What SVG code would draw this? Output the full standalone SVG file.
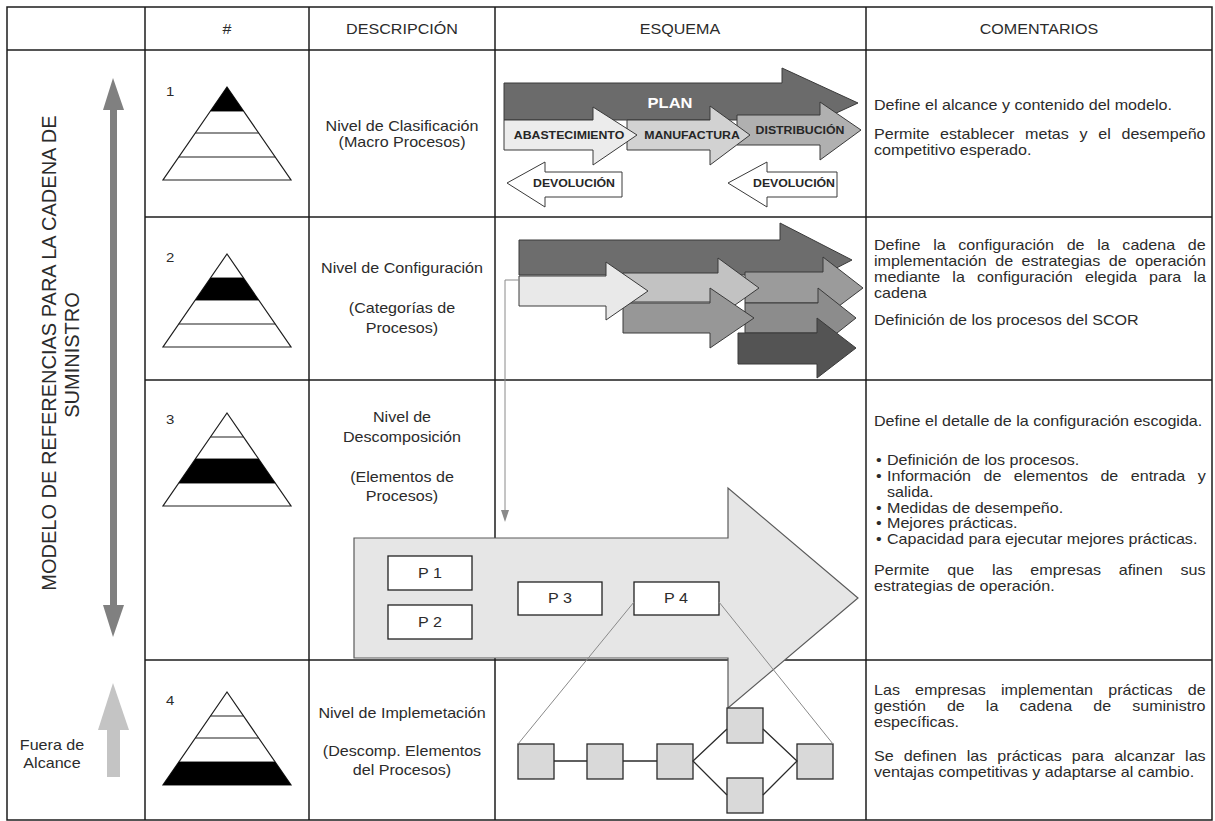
<svg xmlns="http://www.w3.org/2000/svg" width="1215" height="821" viewBox="0 0 1215 821">
  <style>
    .grid { stroke: #1c1c1c; stroke-width: 1.5; fill: none; }
    .t { font-family: "Liberation Sans", Arial, sans-serif; font-size: 14px; fill: #2b2b2b; }
    .c { text-anchor: middle; }
    .lbl { font-family: "Liberation Sans", Arial, sans-serif; font-size: 11px; font-weight: bold; fill: #262626; text-anchor: middle; }
    .pyr { fill: #ffffff; stroke: #1e1e1e; stroke-width: 1.2; }
    .band { fill: #000000; }
    .arr { stroke: #3a3a3a; stroke-width: 1; }
    .box { fill: #ffffff; stroke: #222222; stroke-width: 1.3; }
    .sq { fill: #d9d9d9; stroke: #2a2a2a; stroke-width: 1.3; }
    .link { stroke: #2a2a2a; stroke-width: 1.3; fill: none; }
    .zoomline { stroke: #8a8a8a; stroke-width: 1; fill: none; }
  </style>
  <defs>
    <g id="pyramid">
      <polygon class="pyr" points="0,0 64,93 -64,93"/>
      <line class="pyr" x1="-16.5" y1="24" x2="16.5" y2="24"/>
      <line class="pyr" x1="-31.6" y1="46" x2="31.6" y2="46"/>
      <line class="pyr" x1="-48.2" y1="70" x2="48.2" y2="70"/>
    </g>
  </defs>

  <rect width="1215" height="821" fill="#ffffff"/>

  <!-- table grid -->
  <g id="table">
    <rect class="grid" x="7" y="7" width="1205" height="813"/>
    <line class="grid" x1="7" y1="50" x2="1212" y2="50" stroke-width="2"/>
    <line class="grid" x1="145" y1="7" x2="145" y2="820"/>
    <line class="grid" x1="309" y1="7" x2="309" y2="820"/>
    <line class="grid" x1="495" y1="7" x2="495" y2="820"/>
    <line class="grid" x1="866" y1="7" x2="866" y2="820"/>
    <line class="grid" x1="145" y1="217" x2="1212" y2="217"/>
    <line class="grid" x1="145" y1="380" x2="1212" y2="380"/>
    <line class="grid" x1="145" y1="660" x2="1212" y2="660"/>
  </g>

  <!-- header -->
  <g id="header">
    <text class="t c" transform="matrix(1.15 0 0 1 227 34)">#</text>
    <text class="t c" transform="matrix(1.15 0 0 1 402 34)">DESCRIPCIÓN</text>
    <text class="t c" transform="matrix(1.15 0 0 1 680 34)">ESQUEMA</text>
    <text class="t c" transform="matrix(1.15 0 0 1 1039 34)">COMENTARIOS</text>
  </g>

  <!-- scope axis -->
  <g id="scope">
    <rect x="110" y="108" width="7" height="499" fill="#808080"/>
    <polygon points="113,78 103,110 124,110" fill="#808080"/>
    <polygon points="103,605 124,605 113,637" fill="#808080"/>
    <text class="t c" transform="translate(56,353) rotate(-90)" style="font-size:20px">MODELO DE REFERENCIAS PARA LA CADENA DE</text>
    <text class="t c" transform="translate(79,355) rotate(-90)" style="font-size:20px">SUMINISTRO</text>
  </g>
  <g id="out-of-scope">
    <rect x="107" y="728" width="13" height="49" fill="#c4c4c4"/>
    <polygon points="113,683 98,730 129,730" fill="#c4c4c4"/>
    <text class="t c" transform="matrix(1.15 0 0 1 52 750)">Fuera de</text>
    <text class="t c" transform="matrix(1.15 0 0 1 52 768)">Alcance</text>
  </g>

  <!-- level 1 -->
  <g id="level1">
    <text class="t" transform="matrix(1.15 0 0 1 166 96)" style="font-size:13px">1</text>
    <g transform="translate(227,87)">
      <use href="#pyramid"/>
      <polygon class="band" points="0,0 16.5,24 -16.5,24"/>
    </g>
    <text class="t c" transform="matrix(1.15 0 0 1 402 131)">Nivel de Clasificación</text>
    <text class="t c" transform="matrix(1.15 0 0 1 402 147)">(Macro Procesos)</text>
    <g id="macro-processes">
      <polygon class="arr" fill="#6b6b6b" points="504,83 782,83 782,68 858,103 782,138 782,120 504,120"/>
      <polygon class="arr" fill="#b0b0b0" points="737,115 820,115 820,102 861,130 820,160 820,145 737,145"/>
      <polygon class="arr" fill="#d2d2d2" points="627,120 710,120 710,106 750,135 710,165 710,150 627,150"/>
      <polygon class="arr" fill="#ececec" points="504,120 593,120 593,107 637,135 593,165 593,150 504,150"/>
      <polygon class="arr" fill="#ffffff" points="507,183 545,162 545,172 622,172 622,197 545,197 545,207"/>
      <polygon class="arr" fill="#ffffff" points="728,183 767,162 767,172 837,172 837,197 767,197 767,207"/>
      <text class="lbl" transform="matrix(1.1 0 0 1 670 108)" style="font-size:15px;fill:#ffffff">PLAN</text>
      <text class="lbl" transform="matrix(1.12 0 0 1 569 139)">ABASTECIMIENTO</text>
      <text class="lbl" transform="matrix(1.12 0 0 1 692 139)">MANUFACTURA</text>
      <text class="lbl" transform="matrix(1.12 0 0 1 800 134)">DISTRIBUCIÓN</text>
      <text class="lbl" transform="matrix(1.12 0 0 1 574 187)">DEVOLUCIÓN</text>
      <text class="lbl" transform="matrix(1.12 0 0 1 794 187)">DEVOLUCIÓN</text>
    </g>
    <text class="t" transform="matrix(1.15 0 0 1 874 110)">Define el alcance y contenido del modelo.</text>
    <text class="t" transform="matrix(1.15 0 0 1 874 139)" word-spacing="5.4">Permite establecer metas y el desempeño</text>
    <text class="t" transform="matrix(1.15 0 0 1 874 155)">competitivo esperado.</text>
  </g>

  <!-- level 2 -->
  <g id="level2">
    <text class="t" transform="matrix(1.15 0 0 1 166 262)" style="font-size:13px">2</text>
    <g transform="translate(227,254)">
      <use href="#pyramid"/>
      <polygon class="band" points="-16.5,24 16.5,24 31.6,46 -31.6,46"/>
    </g>
    <text class="t c" transform="matrix(1.15 0 0 1 402 273)">Nivel de Configuración</text>
    <text class="t c" transform="matrix(1.15 0 0 1 402 313)">(Categorías de</text>
    <text class="t c" transform="matrix(1.15 0 0 1 402 333)">Procesos)</text>
    <g id="process-categories">
      <polygon class="arr" fill="#6d6d6d" points="519,240 780,240 780,223 852,260 780,297 780,275 519,275"/>
      <polygon class="arr" fill="#9b9b9b" points="745,272 823,272 823,257 863,288 823,318 823,303 745,303"/>
      <polygon class="arr" fill="#8c8c8c" points="745,303 818,303 818,288 856,318 818,348 818,333 745,333"/>
      <polygon class="arr" fill="#c2c2c2" points="623,273 718,273 718,258 759,288 718,317 718,302 623,302"/>
      <polygon class="arr" fill="#979797" points="623,303 710,303 710,288 754,318 710,348 710,333 623,333"/>
      <polygon class="arr" fill="#e9e9e9" points="519,276 606,276 606,262 648,291 606,320 606,306 519,306"/>
      <polygon class="arr" fill="#545454" points="738,333 817,333 817,318 856,348 817,378 817,364 738,364"/>
    </g>
    <text class="t" transform="matrix(1.15 0 0 1 874 250)" word-spacing="7.1">Define la configuración de la cadena de</text>
    <text class="t" transform="matrix(1.15 0 0 1 874 266)" word-spacing="3.5">implementación de estrategias de operación</text>
    <text class="t" transform="matrix(1.15 0 0 1 874 282)" word-spacing="6.7">mediante la configuración elegida para la</text>
    <text class="t" transform="matrix(1.15 0 0 1 874 298)">cadena</text>
    <text class="t" transform="matrix(1.15 0 0 1 874 325)">Definición de los procesos del SCOR</text>
  </g>

  <!-- level 3 -->
  <g id="level3">
    <text class="t" transform="matrix(1.15 0 0 1 166 424)" style="font-size:13px">3</text>
    <g transform="translate(227,413)">
      <use href="#pyramid"/>
      <polygon class="band" points="-31.6,46 31.6,46 48.2,70 -48.2,70"/>
    </g>
    <text class="t c" transform="matrix(1.15 0 0 1 402 422)">Nivel de</text>
    <text class="t c" transform="matrix(1.15 0 0 1 402 442)">Descomposición</text>
    <text class="t c" transform="matrix(1.15 0 0 1 402 482)">(Elementos de</text>
    <text class="t c" transform="matrix(1.15 0 0 1 402 501)">Procesos)</text>
    <g id="process-elements">
      <polygon fill="#e6e6e6" stroke="#5a5a5a" stroke-width="1.2" points="354,538 728,538 728,488 858,598 728,708 728,658 354,658"/>
      <rect class="box" x="388" y="556" width="84" height="34"/>
      <rect class="box" x="388" y="605" width="84" height="34"/>
      <rect class="box" x="518" y="582" width="84" height="33"/>
      <rect class="box" x="634" y="582" width="85" height="33"/>
      <text class="t c" transform="matrix(1.15 0 0 1 430 578)">P 1</text>
      <text class="t c" transform="matrix(1.15 0 0 1 430 627)">P 2</text>
      <text class="t c" transform="matrix(1.15 0 0 1 560 603)">P 3</text>
      <text class="t c" transform="matrix(1.15 0 0 1 676 603)">P 4</text>
    </g>
    <text class="t" transform="matrix(1.15 0 0 1 874 426)">Define el detalle de la configuración escogida.</text>
    <text class="t" transform="matrix(1.15 0 0 1 876 465)">•</text>
    <text class="t" transform="matrix(1.15 0 0 1 887 465)">Definición de los procesos.</text>
    <text class="t" transform="matrix(1.15 0 0 1 876 481)">•</text>
    <text class="t" transform="matrix(1.15 0 0 1 887 481)" word-spacing="6.9">Información de elementos de entrada y</text>
    <text class="t" transform="matrix(1.15 0 0 1 887 497)">salida.</text>
    <text class="t" transform="matrix(1.15 0 0 1 876 513)">•</text>
    <text class="t" transform="matrix(1.15 0 0 1 887 513)">Medidas de desempeño.</text>
    <text class="t" transform="matrix(1.15 0 0 1 876 528)">•</text>
    <text class="t" transform="matrix(1.15 0 0 1 887 528)">Mejores prácticas.</text>
    <text class="t" transform="matrix(1.15 0 0 1 876 544)">•</text>
    <text class="t" transform="matrix(1.15 0 0 1 887 544)">Capacidad para ejecutar mejores prácticas.</text>
    <text class="t" transform="matrix(1.15 0 0 1 874 575)" word-spacing="11.6">Permite que las empresas afinen sus</text>
    <text class="t" transform="matrix(1.15 0 0 1 874 591)">estrategias de operación.</text>
  </g>

  <!-- level 4 -->
  <g id="level4">
    <text class="t" transform="matrix(1.15 0 0 1 166 705)" style="font-size:13px">4</text>
    <g transform="translate(227,692)">
      <use href="#pyramid"/>
      <polygon class="band" points="-48.2,70 48.2,70 64,93 -64,93"/>
    </g>
    <text class="t c" transform="matrix(1.15 0 0 1 402 718)">Nivel de Implemetación</text>
    <text class="t c" transform="matrix(1.15 0 0 1 402 756)">(Descomp. Elementos</text>
    <text class="t c" transform="matrix(1.15 0 0 1 402 775)">del Procesos)</text>
    <g id="activity-flow">
      <rect class="sq" x="518" y="744" width="36" height="35"/>
      <rect class="sq" x="587" y="744" width="36" height="35"/>
      <rect class="sq" x="657" y="744" width="36" height="35"/>
      <rect class="sq" x="727" y="708" width="36" height="35"/>
      <rect class="sq" x="727" y="778" width="36" height="35"/>
      <rect class="sq" x="797" y="744" width="36" height="35"/>
    </g>
    <text class="t" transform="matrix(1.15 0 0 1 874 695)" word-spacing="9.3">Las empresas implementan prácticas de</text>
    <text class="t" transform="matrix(1.15 0 0 1 874 711)" word-spacing="14.4">gestión de la cadena de suministro</text>
    <text class="t" transform="matrix(1.15 0 0 1 874 727)">específicas.</text>
    <text class="t" transform="matrix(1.15 0 0 1 874 761)" word-spacing="4.9">Se definen las prácticas para alcanzar las</text>
    <text class="t" transform="matrix(1.15 0 0 1 874 777)">ventajas competitivas y adaptarse al cambio.</text>
  </g>

  <!-- connectors -->
  <g id="connectors">
    <polyline class="zoomline" points="519,280 505,280 505,512"/>
    <polygon points="505,522 501,510 509,510" fill="#8a8a8a"/>
    <line class="zoomline" x1="634" y1="602" x2="518" y2="744"/>
    <line class="zoomline" x1="719" y1="602" x2="833" y2="744"/>
    <line class="link" x1="554" y1="761" x2="587" y2="761"/>
    <line class="link" x1="623" y1="761" x2="657" y2="761"/>
    <polyline class="link" points="727,729 693,761 727,795"/>
    <polyline class="link" points="763,729 797,761 763,795"/>
  </g>
</svg>
